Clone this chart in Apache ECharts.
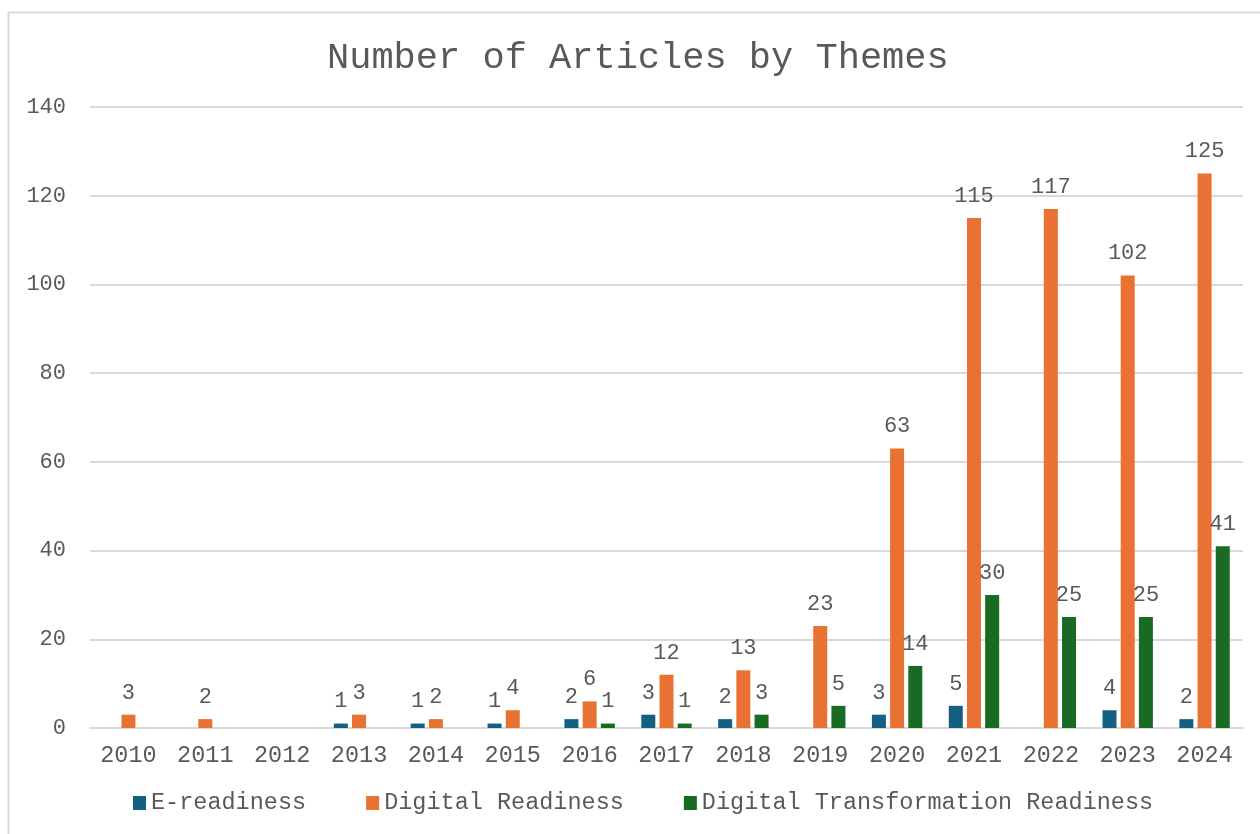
<!DOCTYPE html>
<html>
<head>
<meta charset="utf-8">
<script src="https://cdn.jsdelivr.net/npm/echarts@6/dist/echarts.min.js"></script>
<style>
html,body{margin:0;padding:0;background:#fff;}
#chart{width:1260px;height:834px;}
</style>
</head>
<body>
<div id="chart"></div>
<script>
const categories = ['2010','2011','2012','2013','2014','2015','2016','2017','2018','2019','2020','2021','2022','2023','2024'];
const eReadiness = [null,null,null,1,1,1,2,3,2,null,3,5,null,4,2];
const digitalReadiness = [3,2,null,3,2,4,6,12,13,23,63,115,117,102,125];
const digitalTransformationReadiness = [null,null,null,null,null,null,1,1,3,5,14,30,25,25,41];
const yTicks = [0,20,40,60,80,100,120,140];

const FONT = '"Liberation Mono", "Courier New", monospace';
const TXT = '#595959';

const chart = echarts.init(document.getElementById('chart'));
function barSeries(name, data, color) {
  return {
    name: name,
    type: 'bar',
    data: data,
    barWidth: 14,
    barGap: '30%',
    itemStyle: { color: color },
    label: {
      show: true,
      position: 'top',
      distance: 11,
      fontFamily: FONT,
      fontSize: 22,
      color: TXT
    }
  };
}
chart.setOption({
  backgroundColor: '#ffffff',
  animation: false,
  graphic: [{
    type: 'rect',
    shape: { x: 8.5, y: 12.5, width: 1300, height: 900 },
    style: { fill: 'none', stroke: '#d9d9d9', lineWidth: 2 },
    silent: true,
    z: -1
  }],
  title: {
    text: 'Number of Articles by Themes',
    left: 322,
    top: 35,
    textStyle: { fontFamily: FONT, fontSize: 37, fontWeight: 'normal', color: TXT }
  },
  legend: {
    bottom: 14,
    left: 128,
    itemWidth: 13,
    itemHeight: 14,
    itemGap: 60,
    icon: 'rect',
    textStyle: { fontFamily: FONT, fontSize: 23.5, color: TXT },
    data: ['E-readiness','Digital Readiness','Digital Transformation Readiness']
  },
  grid: { left: 90, right: 17, top: 107, bottom: 106, containLabel: false },
  xAxis: {
    type: 'category',
    data: categories,
    axisLine: { lineStyle: { color: '#d9d9d9', width: 2 } },
    axisTick: { show: false },
    axisLabel: { fontFamily: FONT, fontSize: 23.5, color: TXT, margin: 16 }
  },
  yAxis: {
    type: 'value',
    min: yTicks[0],
    max: yTicks[yTicks.length - 1],
    interval: yTicks[1] - yTicks[0],
    axisLine: { show: false },
    axisTick: { show: false },
    splitLine: { lineStyle: { color: '#d9d9d9', width: 2 } },
    axisLabel: { fontFamily: FONT, fontSize: 22, color: TXT, margin: 24 }
  },
  series: [
    barSeries('E-readiness', eReadiness, '#156082'),
    barSeries('Digital Readiness', digitalReadiness, '#E97132'),
    barSeries('Digital Transformation Readiness', digitalTransformationReadiness, '#196B24')
  ]
});
</script>
</body>
</html>
